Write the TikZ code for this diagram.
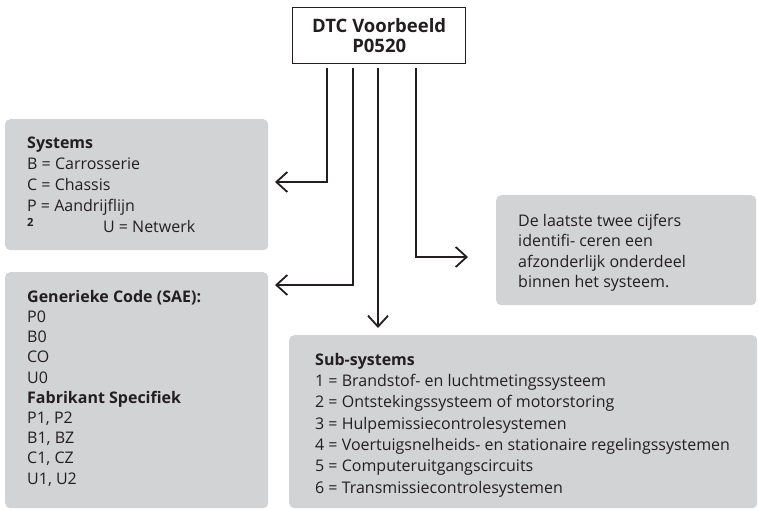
\documentclass[tikz,border=0pt]{standalone}
\usepackage{fontspec}
\setmainfont{Open Sans}
\usetikzlibrary{arrows.meta}
\definecolor{boxgray}{HTML}{D2D3D5}
\definecolor{ink}{HTML}{231F20}
\definecolor{linecol}{HTML}{231F20}
\begin{document}
\begin{tikzpicture}[x=1pt,y=-1pt,
  graybox/.style={fill=boxgray, draw=none, rounded corners=5pt, inner sep=0pt, anchor=north west},
  boxtext/.style={text=ink, align=left, inner sep=0pt, anchor=north west},
  conn/.style={draw=linecol, line width=1.8pt, -{Straight Barb[length=11pt,width=20pt,line width=1.8pt]}, shorten <=4pt},
  titlebox/.style={draw=linecol, line width=1.4pt, fill=white, inner sep=0pt, align=center, text=ink}]
\useasboundingbox (0,0) rectangle (758,510);
% top box
\node[titlebox, minimum width=173pt, minimum height=56pt, anchor=north west,
  font=\fontsize{18.5}{20}\selectfont\bfseries] (top) at (292,7) {DTC Voorbeeld\\P0520};
% gray boxes
\node[graybox, minimum width=263pt, minimum height=131pt] (sys) at (5,119) {};
\node[graybox, minimum width=263pt, minimum height=236pt] (gen) at (5,272) {};
\node[graybox, minimum width=260pt, minimum height=110pt] (last) at (496,195) {};
\node[graybox, minimum width=468pt, minimum height=173pt] (sub) at (289,335) {};
% texts
\node[boxtext, font=\fontsize{16}{21}\selectfont] (systxt) at (27,137)
  {\textbf{Systems}\\B = Carrosserie\\C = Chassis\\P = Aandrijflijn\\\textsuperscript{\textbf{2}}\hspace{69pt}U = Netwerk};
\node[boxtext, font=\fontsize{16}{20.2}\selectfont] (gentxt) at (27,290)
  {\textbf{Generieke Code (SAE):}\\P0\\B0\\CO\\U0\\\textbf{Fabrikant Specifiek}\\P1, P2\\B1, BZ\\C1, CZ\\U1, U2};
\node[boxtext, font=\fontsize{16}{20.3}\selectfont] (lasttxt) at (518,214)
  {De laatste twee cijfers\\identifi- ceren een\\afzonderlijk onderdeel\\binnen het systeem.};
\node[boxtext, font=\fontsize{16}{21.3}\selectfont] (subtxt) at (315,353)
  {\textbf{Sub-systems}\\1 = Brandstof- en luchtmetingssysteem\\2 = Ontstekingssysteem of motorstoring\\3 = Hulpemissiecontrolesystemen\\4 = Voertuigsnelheids- en stationaire regelingssystemen\\5 = Computeruitgangscircuits\\6 = Transmissiecontrolesystemen};
% arrow targets
\coordinate (t1) at (275,182);
\coordinate (t2) at (275,285);
\coordinate (t3) at (378,328);
\coordinate (t4) at (468,257);
% connectors
\draw[conn] ([xshift=35pt]top.south west) |- (t1);
\draw[conn] ([xshift=61pt]top.south west) |- (t2);
\draw[conn] ([xshift=86pt]top.south west) -- (t3);
\draw[conn] ([xshift=124pt]top.south west) |- (t4);
\end{tikzpicture}
\end{document}
